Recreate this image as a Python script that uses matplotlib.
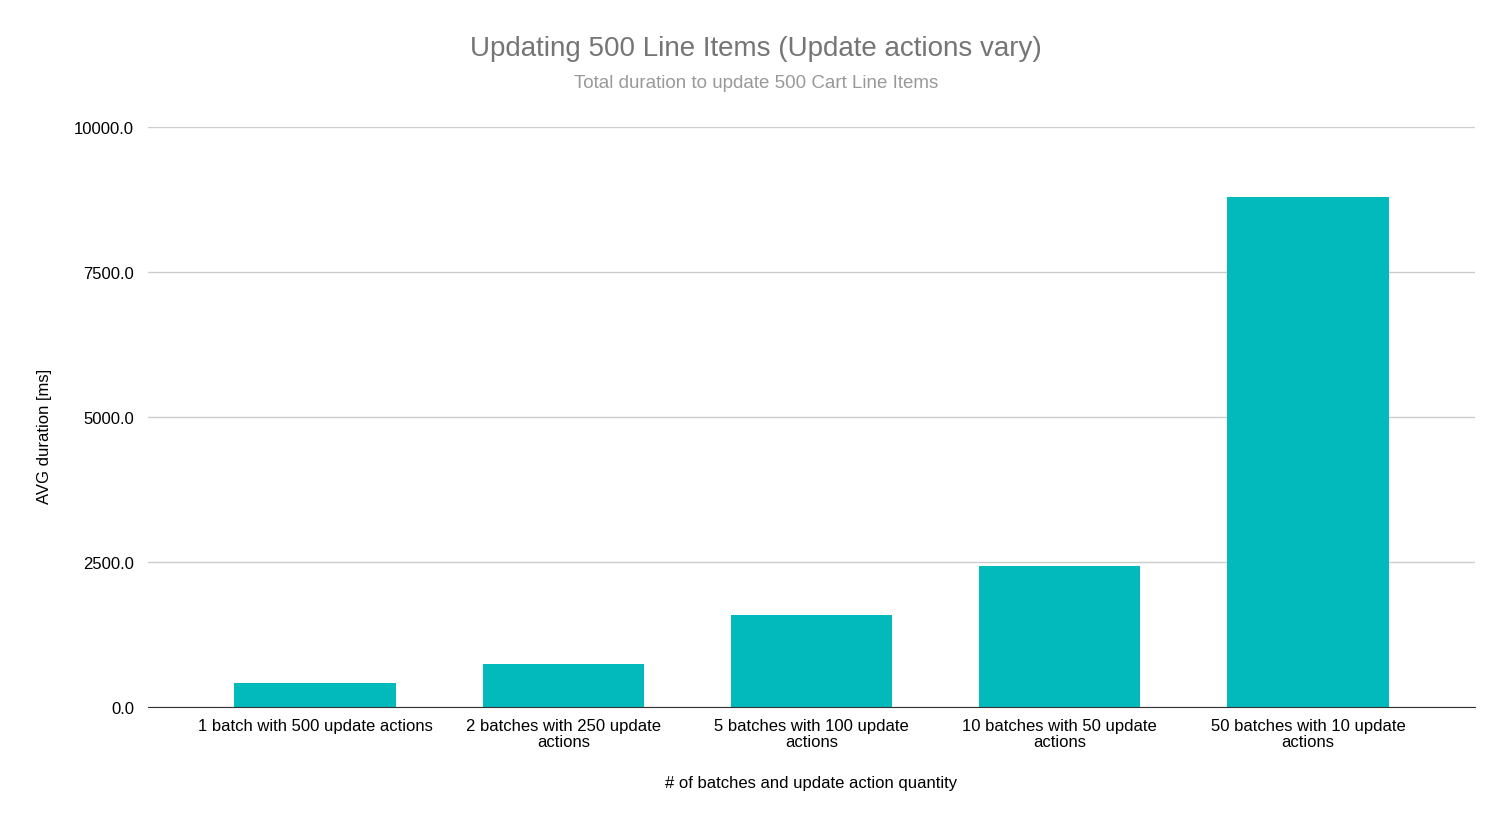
import numpy as np
import matplotlib
matplotlib.use("Agg")
import matplotlib.pyplot as plt

plt.rcParams['font.family'] = ['Liberation Sans', 'DejaVu Sans']

categories = ["1 batch with 500 update actions",
              "2 batches with 250 update\nactions",
              "5 batches with 100 update\nactions",
              "10 batches with 50 update\nactions",
              "50 batches with 10 update\nactions"]
avg_duration = [410, 745, 1585, 2425, 8795]
yticks = [0, 2500, 5000, 7500, 10000]

fig = plt.figure(figsize=(15.08, 8.28), dpi=100)
ax = fig.add_axes([148/1508, 1 - 708/828, (1475-148)/1508, (708-128)/828])

x = np.arange(len(categories))
ax.bar(x, avg_duration, width=0.65, color='#02babb', zorder=3)

ax.set_xlim(-0.673, len(categories) - 1 + 0.673)
ax.set_ylim(0, 10000)
ax.set_yticks(yticks)
ax.set_yticklabels([f"{v:.1f}" for v in yticks], fontsize=12)
ax.set_xticks(x)
ax.set_xticklabels(categories, fontsize=12, linespacing=1.1)
ax.tick_params(axis='x', length=0, pad=8)
ax.tick_params(axis='y', length=0, pad=10)

ax.grid(axis='y', color='#cccccc', linewidth=1, zorder=0)
for s in ['top', 'right', 'left']:
    ax.spines[s].set_visible(False)
ax.spines['bottom'].set_color('#333333')
ax.spines['bottom'].set_zorder(4)

ax.set_ylabel("AVG duration [ms]", fontsize=12)
ax.yaxis.set_label_coords(-(148-52)/1327, (708-436)/580)
ax.set_xlabel("# of batches and update action quantity", fontsize=12)
ax.xaxis.set_label_coords(0.5, -(776-708)/580)

fig.text(756/1508, 1 - 49/828, "Updating 500 Line Items (Update actions vary)",
         ha='center', va='center', fontsize=20, color='#757575')
fig.text(756/1508, 1 - 84/828, "Total duration to update 500 Cart Line Items",
         ha='center', va='center', fontsize=13.5, color='#999999')

fig.savefig("out.png", dpi=100)
